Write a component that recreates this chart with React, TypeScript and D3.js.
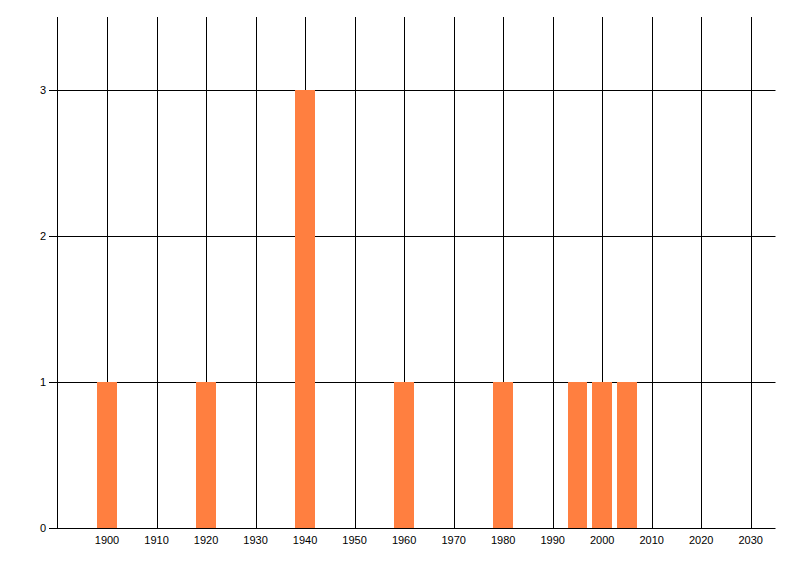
import React from "react";
import * as d3 from "d3";

const years = [1900, 1920, 1940, 1960, 1980, 1995, 2000, 2005];
const counts = [1, 1, 3, 1, 1, 1, 1, 1];
const xTicks = [1900, 1910, 1920, 1930, 1940, 1950, 1960, 1970, 1980, 1990, 2000, 2010, 2020, 2030];
const yTicks = [0, 1, 2, 3];

const W = 800;
const H = 576;
const left = 57.5;
const right = 775.5;
const top = 17;
const bottom = 528;

export default function App() {
  const x = d3.scaleLinear().domain([1890, 2035]).range([left, right]);
  const y = d3.scaleLinear().domain([0, 3.5]).range([bottom, top]);
  const barW = x(1904) - x(1900);
  const font = "'Liberation Sans', Arial, sans-serif";
  return (
    <svg width={W} height={H} style={{ position: "absolute", left: 0, top: 0, background: "#fff" }}>
      {xTicks.map((t) => (
        <g key={t}>
          <line x1={Math.round(x(t)) + 0.5} x2={Math.round(x(t)) + 0.5} y1={top} y2={bottom} stroke="#000" strokeWidth={1} />
          <text x={x(t)} y={544} textAnchor="middle" fontFamily={font} fontSize={11} fill="#000">
            {t}
          </text>
        </g>
      ))}
      {yTicks.map((t) => (
        <g key={t}>
          <line x1={49} x2={right} y1={Math.round(y(t)) + 0.5} y2={Math.round(y(t)) + 0.5} stroke="#000" strokeWidth={1} />
          <text x={46} y={y(t) + 4} textAnchor="end" fontFamily={font} fontSize={11} fill="#000">
            {t}
          </text>
        </g>
      ))}
      <line x1={left} x2={left} y1={top} y2={bottom} stroke="#000" strokeWidth={1} />
      {years.map((yr, i) => (
        <rect
          key={yr}
          x={x(yr) - barW / 2}
          y={y(counts[i])}
          width={barW}
          height={y(0) - y(counts[i])}
          fill="#FF7F40"
          shapeRendering="crispEdges"
        />
      ))}
    </svg>
  );
}
